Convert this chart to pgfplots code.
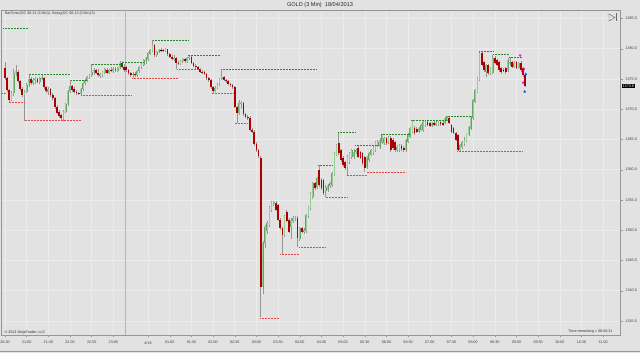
\documentclass[border=0pt]{standalone}
\usepackage{fontspec}
\setmainfont{Liberation Sans}
\usepackage{pgfplots}
\usepackage{pgfplotstable}
\pgfplotsset{compat=1.18}
\definecolor{bg}{RGB}{226,226,226}
\definecolor{gridc}{RGB}{236,236,236}
\definecolor{axisgray}{RGB}{150,150,150}
\definecolor{sess}{RGB}{180,180,180}
\definecolor{upo}{RGB}{100,165,100}
\definecolor{upc}{RGB}{150,208,150}
\definecolor{downc}{RGB}{172,0,0}
\definecolor{wickc}{RGB}{150,150,150}
\definecolor{swg}{RGB}{40,140,40}
\definecolor{swr}{RGB}{230,70,70}
\definecolor{mag}{RGB}{230,0,200}
\definecolor{arrblue}{RGB}{30,60,230}
\pgfplotsset{swh/.style={swg, line width=0.6pt, dash pattern=on 0.8pt off 0.7pt, forget plot},
  swl/.style={swr, line width=0.6pt, dash pattern=on 0.8pt off 0.7pt, forget plot}}

\pgfplotstableread{
i o h l c
0 1376.8 1377.8 1374.8 1375.2
1 1375.2 1375.4 1372.9 1373.2
2 1373.2 1373.4 1371.2 1371.6
3 1371.6 1373.0 1371.3 1372.6
4 1372.6 1376.6 1372.2 1376.0
5 1376.0 1377.3 1375.5 1376.3
6 1376.2 1376.5 1374.4 1374.6
7 1374.6 1374.8 1373.0 1373.3
8 1373.3 1373.6 1372.0 1372.4
9 1372.4 1373.2 1368.1 1372.9
10 1372.9 1374.3 1372.6 1374.0
11 1374.0 1375.8 1373.6 1375.0
12 1375.0 1375.3 1374.0 1374.4
13 1374.4 1375.2 1374.0 1374.9
14 1374.8 1375.3 1374.2 1375.0
15 1375.0 1375.2 1374.3 1374.5
16 1374.5 1375.4 1374.2 1375.1
17 1375.0 1375.6 1374.8 1375.3
18 1375.2 1375.4 1373.3 1373.6
19 1373.6 1373.8 1372.7 1373.0
20 1372.8 1373.6 1372.3 1373.3
21 1373.3 1373.5 1372.0 1372.3
22 1372.3 1372.6 1371.5 1371.8
23 1371.8 1372.0 1370.0 1370.3
24 1370.4 1370.7 1369.2 1369.4
25 1369.5 1369.9 1368.6 1368.9
26 1369.0 1369.2 1368.3 1368.6
27 1368.6 1369.8 1368.1 1369.5
28 1369.5 1371.0 1369.3 1370.8
29 1370.8 1373.2 1370.6 1373.0
30 1373.0 1374.8 1372.7 1373.9
31 1373.8 1374.0 1372.9 1373.2
32 1373.3 1373.6 1372.6 1372.8
33 1372.8 1373.1 1372.4 1372.6
34 1372.7 1372.9 1372.4 1372.5
35 1372.5 1373.5 1372.3 1373.3
36 1373.3 1374.5 1373.0 1374.3
37 1374.3 1375.0 1374.0 1374.8
38 1374.8 1375.5 1374.5 1375.3
39 1375.3 1375.9 1375.0 1375.7
40 1375.7 1377.4 1375.4 1376.1
41 1376.1 1376.8 1375.6 1376.4
42 1376.4 1376.6 1375.8 1376.0
43 1376.0 1376.6 1375.3 1375.6
44 1375.5 1376.0 1375.2 1375.8
45 1375.6 1376.3 1375.3 1376.1
46 1376.0 1376.8 1375.8 1376.6
47 1376.5 1376.8 1375.8 1376.0
48 1376.0 1376.7 1375.9 1376.5
49 1376.5 1376.9 1376.1 1376.3
50 1376.3 1376.9 1376.0 1376.7
51 1376.7 1376.9 1376.2 1376.4
52 1376.3 1377.0 1376.1 1376.8
53 1376.8 1377.9 1376.6 1377.7
54 1377.6 1377.9 1376.8 1377.0
55 1377.0 1377.4 1376.2 1376.5
56 1376.9 1377.2 1376.2 1376.4
57 1376.4 1376.6 1375.7 1376.0
58 1376.0 1376.2 1375.3 1375.6
59 1375.6 1376.1 1375.1 1375.9
60 1375.9 1376.2 1375.3 1375.6
61 1375.6 1376.5 1375.4 1376.3
62 1376.3 1377.2 1376.0 1377.0
63 1376.9 1377.6 1376.6 1377.4
64 1377.3 1378.3 1377.1 1378.1
65 1378.0 1378.6 1377.5 1378.4
66 1378.3 1379.5 1378.0 1379.3
67 1379.2 1380.0 1378.9 1379.8
68 1379.7 1381.4 1379.5 1380.6
69 1380.6 1380.8 1378.6 1378.9
70 1378.9 1379.7 1378.7 1379.5
71 1379.5 1380.0 1379.3 1379.8
72 1379.8 1380.1 1379.5 1379.8
73 1379.8 1380.0 1379.4 1379.6
74 1379.6 1380.1 1379.4 1379.9
75 1379.9 1380.0 1378.8 1379.1
76 1379.1 1379.3 1378.5 1378.7
77 1378.7 1378.9 1378.1 1378.3
78 1378.3 1378.9 1378.0 1378.5
79 1378.5 1378.6 1376.6 1377.7
80 1377.7 1378.0 1377.3 1377.5
81 1377.5 1378.2 1377.3 1378.0
82 1378.0 1378.5 1377.7 1378.3
83 1378.3 1378.4 1377.6 1377.9
84 1377.9 1378.6 1377.7 1378.4
85 1378.4 1378.9 1378.1 1378.7
86 1378.7 1378.8 1377.4 1377.6
87 1377.6 1377.8 1376.9 1377.2
88 1377.2 1377.4 1376.7 1376.9
89 1376.9 1377.1 1376.4 1376.6
90 1376.6 1376.8 1376.0 1376.2
91 1376.2 1376.5 1375.9 1376.1
92 1376.1 1376.3 1375.6 1375.8
93 1375.8 1376.0 1374.9 1375.2
94 1375.2 1375.4 1374.5 1374.8
95 1374.8 1375.0 1373.4 1373.6
96 1373.6 1373.9 1372.7 1373.0
97 1373.0 1373.8 1372.8 1373.5
98 1373.5 1374.3 1373.3 1374.1
99 1374.1 1375.2 1373.9 1375.0
100 1375.0 1376.6 1374.8 1375.3
101 1375.3 1375.5 1374.6 1374.8
102 1374.8 1375.0 1374.4 1374.6
103 1374.6 1374.9 1374.0 1374.2
104 1374.2 1374.4 1373.7 1374.0
105 1374.0 1374.2 1373.3 1373.6
106 1373.6 1373.8 1370.2 1370.4
107 1370.4 1370.6 1367.7 1369.4
108 1369.4 1371.5 1369.1 1371.0
109 1370.9 1371.3 1370.1 1371.1
110 1371.0 1371.2 1368.9 1369.2
111 1369.2 1369.4 1368.5 1368.7
112 1368.7 1369.0 1368.2 1368.5
113 1368.6 1368.8 1366.4 1366.6
114 1366.6 1366.9 1366.1 1366.3
115 1366.3 1366.5 1364.0 1364.3
116 1364.3 1364.6 1363.0 1363.3
117 1363.3 1363.5 1362.0 1362.2
118 1362.0 1362.3 1335.6 1340.6
119 1340.6 1348.2 1339.5 1347.9
120 1347.9 1350.8 1347.0 1350.5
121 1349.8 1351.6 1349.3 1351.2
122 1350.9 1354.0 1350.6 1353.8
123 1353.3 1354.9 1353.0 1354.6
124 1354.5 1354.9 1354.0 1354.7
125 1354.5 1354.8 1353.1 1353.3
126 1354.2 1354.4 1351.5 1351.7
127 1351.7 1352.0 1350.1 1350.4
128 1350.4 1350.6 1346.1 1349.2
129 1349.2 1352.5 1348.9 1352.3
130 1353.0 1353.3 1351.3 1351.5
131 1351.7 1352.0 1349.5 1349.7
132 1350.5 1352.0 1348.5 1351.6
133 1351.6 1352.3 1351.2 1352.1
134 1352.0 1352.4 1351.6 1352.2
135 1352.1 1352.4 1347.2 1348.7
136 1348.6 1350.6 1348.3 1350.4
137 1350.4 1350.6 1349.5 1349.7
138 1349.7 1350.4 1349.3 1350.1
139 1349.9 1352.7 1349.6 1352.5
140 1352.4 1354.0 1352.1 1353.8
141 1353.7 1356.3 1353.4 1356.1
142 1355.5 1358.0 1355.2 1357.8
143 1357.8 1358.0 1356.7 1357.0
144 1357.1 1358.8 1356.8 1358.6
145 1359.9 1360.8 1357.2 1357.5
146 1358.3 1358.6 1356.6 1356.9
147 1358.3 1358.5 1355.9 1356.2
148 1356.5 1357.4 1355.5 1357.1
149 1356.6 1357.6 1356.3 1357.4
150 1357.3 1358.0 1357.0 1357.8
151 1357.5 1359.7 1357.2 1359.4
152 1359.2 1363.0 1358.9 1362.8
153 1362.5 1364.3 1362.2 1364.1
154 1364.4 1366.2 1362.4 1362.8
155 1363.2 1363.5 1361.3 1361.6
156 1361.9 1362.2 1360.5 1360.8
157 1361.3 1361.5 1360.0 1360.3
158 1360.4 1362.4 1359.1 1362.1
159 1361.3 1363.0 1361.0 1362.8
160 1362.1 1363.5 1361.8 1363.3
161 1362.1 1363.4 1361.8 1362.9
162 1362.9 1363.5 1362.6 1363.2
163 1363.6 1364.1 1361.9 1362.1
164 1362.9 1363.1 1361.7 1361.9
165 1362.8 1363.0 1360.8 1361.1
166 1362.1 1362.3 1359.6 1360.3
167 1360.4 1362.2 1360.1 1361.9
168 1361.6 1362.9 1361.3 1362.7
169 1362.5 1363.5 1362.2 1363.3
170 1362.8 1364.0 1362.5 1363.8
171 1363.3 1364.8 1363.0 1364.6
172 1364.1 1364.9 1363.8 1364.6
173 1363.8 1365.2 1363.5 1364.9
174 1364.6 1365.9 1364.3 1365.7
175 1364.4 1365.4 1364.1 1365.2
176 1365.2 1365.4 1364.1 1364.4
177 1364.6 1365.6 1364.3 1365.4
178 1365.2 1365.5 1362.9 1363.3
179 1364.9 1365.2 1363.3 1363.6
180 1364.5 1364.7 1362.9 1363.2
181 1363.2 1364.1 1362.9 1363.8
182 1363.3 1364.3 1363.0 1364.1
183 1364.0 1364.2 1363.1 1363.4
184 1363.6 1363.9 1363.0 1363.3
185 1363.3 1365.1 1363.0 1364.9
186 1364.6 1366.0 1364.4 1365.7
187 1365.4 1367.1 1365.2 1366.9
188 1366.2 1368.2 1366.0 1367.9
189 1366.9 1367.2 1365.8 1366.1
190 1366.8 1367.1 1366.0 1366.3
191 1366.3 1367.1 1366.0 1366.9
192 1366.6 1367.6 1366.4 1367.4
193 1366.6 1368.0 1366.3 1367.9
194 1367.4 1368.2 1367.1 1367.9
195 1367.9 1368.1 1367.2 1367.4
196 1367.7 1367.9 1367.1 1367.3
197 1367.3 1367.9 1367.1 1367.7
198 1367.8 1368.0 1367.2 1367.4
199 1367.4 1368.0 1367.2 1367.8
200 1367.6 1368.1 1367.3 1367.9
201 1367.9 1368.1 1367.3 1367.5
202 1367.8 1368.0 1367.2 1367.4
203 1367.7 1368.7 1367.5 1368.5
204 1368.3 1368.9 1368.0 1368.7
205 1368.6 1368.8 1367.5 1367.8
206 1367.4 1367.6 1366.0 1366.3
207 1366.9 1367.1 1365.9 1366.1
208 1366.1 1366.3 1364.7 1364.9
209 1365.7 1365.9 1363.1 1363.3
210 1363.3 1364.3 1363.1 1364.1
211 1363.8 1364.8 1363.5 1364.6
212 1364.2 1365.4 1363.9 1364.9
213 1364.8 1366.1 1364.6 1366.0
214 1365.8 1367.2 1365.5 1367.0
215 1366.8 1368.9 1366.6 1368.7
216 1368.5 1371.7 1368.3 1371.5
217 1371.2 1373.4 1371.0 1373.2
218 1372.8 1375.3 1372.6 1375.1
219 1374.8 1379.5 1374.6 1379.3
220 1379.3 1379.5 1377.1 1377.3
221 1377.8 1378.0 1376.2 1376.5
222 1376.2 1377.5 1375.3 1377.3
223 1377.3 1377.5 1375.7 1376.0
224 1376.0 1377.0 1375.7 1376.8
225 1376.0 1378.9 1375.8 1378.5
226 1378.5 1378.8 1377.4 1377.6
227 1378.1 1378.3 1377.1 1377.3
228 1377.8 1378.0 1376.2 1376.5
229 1376.8 1377.0 1375.9 1376.1
230 1376.5 1376.8 1376.2 1376.5
231 1376.8 1377.0 1375.9 1376.1
232 1376.5 1378.4 1376.2 1378.1
233 1377.4 1378.6 1377.1 1377.8
234 1377.8 1378.0 1376.8 1377.0
235 1377.0 1377.9 1376.8 1377.6
236 1377.8 1378.0 1376.6 1376.8
237 1376.8 1377.8 1376.6 1377.6
238 1377.6 1377.9 1376.2 1376.5
239 1376.8 1377.0 1375.4 1375.7
240 1375.7 1375.9 1373.7 1373.8
}\bars

\begin{document}
\begin{tikzpicture}
\fill[bg] (0pt,0pt) rectangle (640pt,353pt);
\useasboundingbox (0pt,0pt) rectangle (640pt,353pt);
\draw[axisgray, line width=0.6pt] (0pt,1.3pt) -- (640pt,1.3pt);
\node[font=\fontsize{5.6}{6}\selectfont, text=black!85] at (320pt,348pt) {GOLD (3 Min)\ \ 18/04/2013};
\begin{axis}[
  at={(1pt,17.5pt)}, anchor=south west,
  width=619.7pt, height=325.5pt, scale only axis,
  xmin=-1.85, xmax=284.1, ymin=1332.6, ymax=1386.4,
  clip=false,
  axis background/.style={fill=bg},
  axis line style={draw=axisgray, line width=0.6pt},
  xtick={0,10,20,30,40,50,66,76,86,96,106,116,126,136,146,156,166,176,186,196,206,216,226,236,246,256,266,276},
  xticklabels={20:30,21:00,21:30,22:00,22:30,23:00,4/18,01:00,01:30,02:00,02:30,03:00,03:30,04:00,04:30,05:00,05:30,06:00,06:30,07:00,07:30,08:00,08:30,09:00,09:30,10:00,10:30,11:00},
  ytick={1335,1340,1345,1350,1355,1360,1365,1370,1375,1380,1385},
  xmajorgrids, ymajorgrids,
  grid style={gridc, line width=0.5pt},
  tick align=outside, major tick length=1.8pt,
  tick style={axisgray, line width=0.4pt},
  xtick pos=bottom, ytick pos=right, yticklabel pos=right,
  ticklabel style={font=\fontsize{3.7}{4}\selectfont, text=black!75},
  yticklabel style={/pgf/number format/fixed, /pgf/number format/fixed zerofill, /pgf/number format/precision=1, /pgf/number format/1000 sep={}, /pgf/number format/assume math mode=true, xshift=-0.5pt},
  xticklabel style={yshift=-0.5pt},
]
% session break
\addplot[sess, line width=0.6pt, forget plot] coordinates {(55.5,1332.6) (55.5,1386.4)};
% wicks
\addplot[draw=none, mark=none, forget plot, error bars/.cd, y dir=plus, y explicit, error mark=none,
  error bar style={draw=wickc, line width=0.55pt}]
  table[x=i, y=l, y error expr=\thisrow{h}-\thisrow{l}] {\bars};
% up bodies (outline, then fill)
\addplot[draw=none, mark=none, forget plot, restrict expr to domain={\thisrow{c}-\thisrow{o}}{0.01:100},
  error bars/.cd, y dir=plus, y explicit, error mark=none,
  error bar style={draw=upo, line width=1.75pt}]
  table[x=i, y=o, y error expr=\thisrow{c}-\thisrow{o}] {\bars};
\addplot[draw=none, mark=none, forget plot, restrict expr to domain={\thisrow{c}-\thisrow{o}}{0.01:100},
  error bars/.cd, y dir=plus, y explicit, error mark=none,
  error bar style={draw=upc, line width=0.95pt}]
  table[x=i, y=o, y error expr=\thisrow{c}-\thisrow{o}] {\bars};
% down bodies
\addplot[draw=none, mark=none, forget plot, restrict expr to domain={\thisrow{c}-\thisrow{o}}{-100:-0.01},
  error bars/.cd, y dir=plus, y explicit, error mark=none,
  error bar style={draw=downc, line width=1.75pt}]
  table[x=i, y=c, y error expr=\thisrow{o}-\thisrow{c}] {\bars};
% doji
\addplot[only marks, mark=-, mark size=0.9pt, black, forget plot, restrict expr to domain={\thisrow{c}-\thisrow{o}}{-0.005:0.005}]
  table[x=i, y=c] {\bars};
% swing highs
\addplot[swh] coordinates {(-0.9,1383.3) (10.6,1383.3)};
\addplot[swh] coordinates {(11,1375.8) (30,1375.8)};
\addplot[swh] coordinates {(30.5,1374.8) (37.8,1374.8)};
\addplot[swh] coordinates {(40,1377.4) (54.5,1377.4)};
\addplot[swh] coordinates {(54.5,1377.8) (63.7,1377.8)};
\addplot[swh] coordinates {(68.3,1381.4) (84.4,1381.4)};
\addplot[swh] coordinates {(84.4,1378.9) (99.2,1378.9)};
\addplot[swh] coordinates {(99.7,1376.6) (143.5,1376.6)};
\addplot[swh] coordinates {(144.5,1360.8) (151.4,1360.8)};
\addplot[swh] coordinates {(153.8,1366.2) (161.5,1366.2)};
\addplot[swh] coordinates {(161.5,1364.1) (172.1,1364.1)};
\addplot[swh] coordinates {(173.5,1365.9) (186.9,1365.9)};
\addplot[swh] coordinates {(187.5,1368.1) (193.8,1368.1)};
\addplot[swh] coordinates {(193.8,1368.2) (203.5,1368.2)};
\addplot[swh] coordinates {(203.5,1368.9) (214.6,1368.9)};
\addplot[swh] coordinates {(218.8,1379.5) (225.2,1379.5)};
\addplot[swh] coordinates {(225.2,1379.0) (232.6,1379.0)};
\addplot[swh] coordinates {(232.6,1378.6) (238.2,1378.6)};
% swing lows
\addplot[swl] coordinates {(-1.85,1372.7) (0.9,1372.7)};
\addplot[swl] coordinates {(1.8,1371.2) (8.8,1371.2)};
\addplot[swl] coordinates {(9.2,1368.1) (35.1,1368.1)};
\addplot[swl] coordinates {(35.1,1372.3) (58.1,1372.3)};
\addplot[swl] coordinates {(58.6,1375.1) (79.4,1375.1)};
\addplot[swl] coordinates {(79.4,1376.6) (90,1376.6)};
\addplot[swl] coordinates {(95.5,1372.6) (105.2,1372.6)};
\addplot[swl] coordinates {(106.1,1367.7) (112.1,1367.7)};
\addplot[swl] coordinates {(117.7,1335.5) (126.4,1335.5)};
\addplot[swl] coordinates {(126.9,1346.1) (135.7,1346.1)};
\addplot[swl] coordinates {(135.7,1347.2) (147.7,1347.2)};
\addplot[swl] coordinates {(148.1,1355.5) (157.8,1355.5)};
\addplot[swl] coordinates {(157.8,1359.1) (167,1359.1)};
\addplot[swl] coordinates {(167,1359.6) (185,1359.6)};
\addplot[swl] coordinates {(208.6,1363.1) (239,1363.1)};
% signal markers
\addplot[only marks, mark=triangle*, mark size=1.2pt, mark options={rotate=180, fill=mag, draw=mag}] coordinates {(237.7,1378.9) (239.4,1376.6) (239.1,1374.4)};
\addplot[only marks, mark=triangle*, mark size=1.2pt, mark options={fill=arrblue, draw=arrblue}] coordinates {(239.8,1372.9) (240.3,1375.8)};
\node[fill=black, text=white, font=\fontsize{3.7}{4}\selectfont, inner sep=0.7pt, anchor=west] at (axis cs:284.6,1373.8) {1373.8};
\end{axis}
\node[anchor=west, font=\fontsize{3.6}{4}\selectfont, text=black!80] at (1.5pt,339pt) {BarTimer(GC 06-13 (3 Min)), Swing(GC 06-13 (3 Min),5)};
\node[anchor=west, font=\fontsize{3.7}{4}\selectfont, text=black!80] at (1pt,20.3pt) {© 2013 NinjaTrader, LLC};
\node[anchor=east, font=\fontsize{3.7}{4}\selectfont, text=black!80] at (616pt,21pt) {Time remaining = 00:00:21};
\draw[black!60, line width=0.45pt] (609pt,339pt) -- (615pt,335.5pt) -- (609pt,332pt) -- cycle;
\draw[black!60, line width=0.45pt] (616pt,339.5pt) -- (616pt,331.5pt);
\end{tikzpicture}
\end{document}
